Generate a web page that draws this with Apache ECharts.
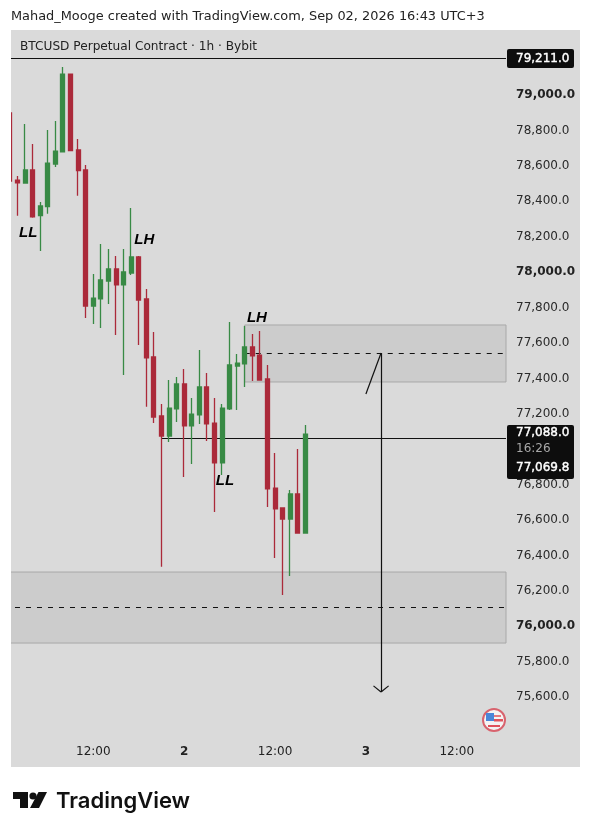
<!DOCTYPE html>
<html>
<head>
<meta charset="utf-8">
<style>html,body{margin:0;padding:0;background:#fff}#c{width:591px;height:835px}</style>
<script src="https://cdn.jsdelivr.net/npm/echarts@6/dist/echarts.min.js"></script>
</head>
<body>
<div id="c"></div>
<script>
const hours = [
'1 01:00','1 02:00','1 03:00','1 04:00','1 05:00','1 06:00','1 07:00','1 08:00','1 09:00','1 10:00','1 11:00','1 12:00',
'1 13:00','1 14:00','1 15:00','1 16:00','1 17:00','1 18:00','1 19:00','1 20:00','1 21:00','1 22:00','1 23:00','2 00:00',
'2 01:00','2 02:00','2 03:00','2 04:00','2 05:00','2 06:00','2 07:00','2 08:00','2 09:00','2 10:00','2 11:00','2 12:00',
'2 13:00','2 14:00','2 15:00','2 16:00','2 17:00','2 18:00','2 19:00','2 20:00','2 21:00','2 22:00','2 23:00','3 00:00',
'3 01:00','3 02:00','3 03:00','3 04:00','3 05:00','3 06:00','3 07:00','3 08:00','3 09:00','3 10:00','3 11:00','3 12:00',
'3 13:00','3 14:00','3 15:00','3 16:00','3 17:00','3 18:00'];
const opens  = [78893,78514,78497,78571,78313,78364,78605,78674,79113,78684,78571,77803,77843,77944,78012,77922,77989,78080,77843,77515,77182,77069,77222,77363,77126,77188,77346,77142,76917,77222,77464,77476,77572,77526,77391,76775,76663,76600,76742,76521];
const closes = [78509,78499,78571,78307,78368,78610,78678,79113,78680,78567,77803,77848,77950,78012,77922,77995,78080,77837,77511,77176,77069,77227,77363,77126,77193,77346,77137,76917,77227,77470,77481,77572,77521,77385,76770,76657,76600,76742,76521,77080];
const lows   = [78509,78313,78497,78302,78114,78324,78588,78674,78680,78426,77735,77701,77679,77814,77639,77413,77978,77583,77234,77142,76331,77035,77148,76838,76911,77137,77041,76640,76849,77216,77216,77346,77380,77385,76668,76380,76171,76279,76521,76521];
const highs  = [78893,78537,78831,78718,78390,78797,78848,79152,79113,78746,78599,77984,78153,78125,78085,78125,78356,78085,77899,77656,77250,77385,77402,77447,77284,77555,77425,77284,77250,77713,77532,77690,77645,77662,77470,76973,76663,76764,76996,77131];
const boldTicks = [79000,78000,76000];
const hiddenTicks = [79400,79200,77000,75400,75200];
const highLine = 79203, lastLine = 77060;
const upperZone = [77696,77374], upperMid = 77535;
const lowerZone = [76301,75900], lowerMid = 76103;
// [first candle index, price, dashed]
const rightLines = [[0,highLine,0],[20,lastLine,0],[0,lowerMid,1],[31,upperMid,1]];
const swings = [
  {t:'LL', i:2,  p:78215, dx:3},
  {t:'LH', i:18, p:78176, dx:-2},
  {t:'LH', i:33, p:77735, dx:-3},
  {t:'LL', i:28, p:76815, dx:3}
];
const arrow = {i:49, from:77538, to:75624, wing:75658, tailI:47, tail:77306};

const FONT = 'DejaVu Sans';
const candles = opens.map((o,k)=>[o,closes[k],lows[k],highs[k]]);
const line = (a,b,style)=>[Object.assign({},a,{lineStyle:style}),b];
const solid = {color:'#111',width:1.2,type:'solid'};

const chart = echarts.init(document.getElementById('c'),null,{renderer:'canvas'});
const txt = (x,y,s,fill,opt)=>({type:'text',z:110,style:Object.assign({x,y,text:s,fill,font:'12px "'+FONT+'"',textVerticalAlign:'middle'},opt||{})});
const white = {stroke:'#fff',lineWidth:0.4};
chart.setOption({
  animation:false,
  grid:{left:6.2,right:85,top:23.2,bottom:68,containLabel:false},
  xAxis:{type:'category',data:hours,boundaryGap:true,
    axisLine:{show:false},axisTick:{show:false},splitLine:{show:false},
    axisLabel:{inside:true,interval:0,margin:9,color:'#222',fontFamily:FONT,fontSize:12,hideOverlap:false,
      formatter:(v)=>{const [d,h]=v.split(' ');return h==='12:00'?'12:00':(h==='00:00'?'{b|'+d+'}':'');},
      rich:{b:{fontWeight:'bold',fontFamily:FONT,fontSize:12,color:'#222'}}}},
  yAxis:{type:'value',position:'right',min:75200,max:79400,interval:200,
    axisLine:{show:false},axisTick:{show:false},splitLine:{show:false},
    axisLabel:{margin:10,color:'#2a2a2a',fontFamily:FONT,fontSize:12,padding:[2,0,0,0],
      formatter:(v)=>{
        if(hiddenTicks.includes(v))return '';
        const s=v.toLocaleString('en-US',{minimumFractionDigits:1,maximumFractionDigits:1});
        return boldTicks.includes(v)?'{b|'+s+'}':s;},
      rich:{b:{fontWeight:'bold',fontFamily:FONT,fontSize:12,color:'#222'}}}},
  graphic:[
    {type:'rect',z:-10,shape:{x:11,y:30,width:569,height:737},style:{fill:'#dadada'}},
    {type:'rect',z:100,shape:{x:0,y:30,width:11,height:737},style:{fill:'#fff'}},
    {type:'rect',z:105,shape:{x:507,y:49,width:67,height:19,r:2},style:{fill:'#0d0d0d'}},
    {type:'rect',z:105,shape:{x:507,y:425,width:67,height:54,r:2},style:{fill:'#0d0d0d'}},
    txt(516,58.5,'79,211.0','#fff',white),
    txt(516,433,'77,088.0','#fff',white),
    txt(516,449,'16:26','#a8a8a8'),
    txt(516,468,'77,069.8','#fff',white),
    txt(11,17,'Mahad_Mooge created with TradingView.com, Sep 02, 2026 16:43 UTC+3','#222',{font:'12.9px "'+FONT+'"'}),
    txt(20,47,'BTCUSD Perpetual Contract · 1h · Bybit','#222',{font:'12.15px "'+FONT+'"'}),
    // flag
    {type:'circle',z:105,shape:{cx:494,cy:720,r:11},style:{fill:'#f4f4f4',stroke:'#d8636e',lineWidth:2}},
    {type:'rect',z:106,shape:{x:486,y:713,width:8,height:8},style:{fill:'#4a86d8'}},
    {type:'rect',z:106,shape:{x:494,y:715,width:7,height:2},style:{fill:'#e57a80'}},
    {type:'rect',z:106,shape:{x:494,y:719,width:9,height:2.5},style:{fill:'#e0525c'}},
    {type:'rect',z:106,shape:{x:488,y:725,width:12,height:2},style:{fill:'#e0525c'}},
    // logo
    {type:'polygon',z:110,shape:{points:[[13,792],[28,792],[28,808],[20,808],[20,799],[13,799]]},style:{fill:'#111'}},
    {type:'circle',z:110,shape:{cx:33,cy:796,r:3.6},style:{fill:'#111'}},
    {type:'polygon',z:110,shape:{points:[[38.5,792],[47,792],[39,808],[30,808]]},style:{fill:'#111'}},
    txt(56,801,'TradingView','#111',{font:'600 22px "Inter"'})
  ],
  series:[{
    type:'custom',z:1,silent:true,clip:false,
    data:rightLines,
    encode:{x:0,y:1},
    renderItem:(params,api)=>{
      const p=api.coord([api.value(0),api.value(1)]);
      const right=params.coordSys.x+params.coordSys.width;
      const dashed=api.value(2)===1;
      return {type:'line',shape:{x1:p[0],y1:Math.round(p[1])+0.5,x2:right,y2:Math.round(p[1])+0.5},
        style:{stroke:'#111',lineWidth:1,lineDash:dashed?[5,6]:null,lineDashOffset:(dashed&&api.value(0)===0)?6:0}};
    }
  },{
    type:'candlestick',z:2,
    data:candles,
    barWidth:4.5,
    itemStyle:{color:'#388a45',color0:'#ab2a3a',borderColor:'#388a45',borderColor0:'#ab2a3a',borderWidth:1.3},
    markArea:{silent:true,z:0,
      itemStyle:{color:'#cccccc',borderColor:'#a8a8a8',borderWidth:1},
      data:[
        [{yAxis:lowerZone[0]},{yAxis:lowerZone[1]}],
        [{xAxis:31,yAxis:upperZone[0]},{xAxis:Infinity,yAxis:upperZone[1]}]
      ]},
    markLine:{silent:true,z:3,symbol:['none','none'],label:{show:false},
      data:[
        line({xAxis:arrow.i,yAxis:arrow.from},{xAxis:arrow.i,yAxis:arrow.to},solid),
        line({xAxis:arrow.i,yAxis:arrow.from},{xAxis:arrow.tailI,yAxis:arrow.tail},solid),
        line({xAxis:arrow.i,yAxis:arrow.to},{xAxis:arrow.i-1,yAxis:arrow.wing},solid),
        line({xAxis:arrow.i,yAxis:arrow.to},{xAxis:arrow.i+1,yAxis:arrow.wing},solid)
      ]},
    markPoint:{silent:true,z:6,symbol:'circle',symbolSize:1,itemStyle:{color:'transparent'},
      data:swings.map(s=>({coord:[s.i,s.p],value:s.t,
        label:{show:true,position:'inside',offset:[s.dx,0],formatter:s.t,color:'#000',
          fontFamily:'Liberation Sans',fontStyle:'italic',fontWeight:'bold',fontSize:15}}))}
  }]
});
</script>
</body>
</html>
